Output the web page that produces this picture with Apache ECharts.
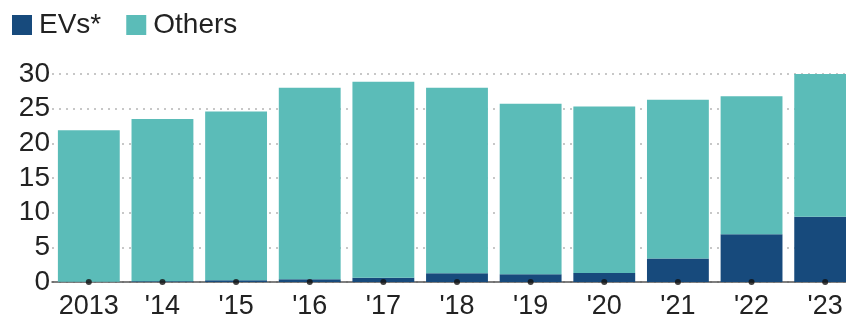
<!DOCTYPE html>
<html>
<head>
<meta charset="utf-8">
<script src="https://cdn.jsdelivr.net/npm/echarts@6/dist/echarts.min.js"></script>
<style>
  html, body { margin: 0; padding: 0; background: #fff; }
  #chart { width: 846px; height: 320px; }
</style>
</head>
<body>
<div id="chart"></div>
<script>
// Annual sales (millions of units): EVs vs. all other vehicles
const years = ['2013', "'14", "'15", "'16", "'17", "'18", "'19", "'20", "'21", "'22", "'23"];
const evSales = [0.05, 0.1, 0.25, 0.4, 0.6, 1.25, 1.1, 1.3, 3.4, 6.9, 9.4];
const totalSales = [21.9, 23.5, 24.6, 28.0, 28.9, 28.0, 25.7, 25.3, 26.3, 26.8, 30.0];
const otherSales = totalSales.map((t, i) => +(t - evSales[i]).toFixed(2));
const yTicks = [0, 5, 10, 15, 20, 25, 30];
const baseMarks = years.map(() => 0);

const chart = echarts.init(document.getElementById('chart'), null, { renderer: 'canvas' });
chart.setOption({
  animation: false,
  textStyle: { fontFamily: 'Liberation Sans, Arial, sans-serif' },
  legend: {
    left: 7, top: 6,
    itemWidth: 20, itemHeight: 20, itemGap: 25,
    icon: 'rect',
    data: ['EVs*', 'Others'],
    textStyle: { fontSize: 28, color: '#222', padding: [0, 0, 0, 2] }
  },
  // the plot runs past the right edge, so the last bar is cut off
  grid: {
    left: 52, width: 810, top: 74, height: 208,
    containLabel: false, outerBoundsMode: 'none'
  },
  xAxis: {
    type: 'category',
    data: years,
    boundaryGap: true,
    axisLine: { show: true, lineStyle: { color: '#555', width: 1.5 } },
    axisTick: { show: false },
    axisLabel: { fontSize: 27, color: '#222', margin: 11, interval: 0, hideOverlap: false }
  },
  yAxis: {
    type: 'value',
    min: yTicks[0], max: yTicks[yTicks.length - 1], interval: 5,
    axisLine: { show: false },
    axisTick: { show: false },
    axisLabel: { fontSize: 28, color: '#222', margin: 2 },
    splitLine: { show: true, lineStyle: { color: '#b5b5b5', type: [2, 5], width: 1.5 } }
  },
  series: [
    {
      name: 'EVs*', type: 'bar', stack: 'sales',
      data: evSales, barCategoryGap: '16%',
      itemStyle: { color: '#174a7c' }
    },
    {
      name: 'Others', type: 'bar', stack: 'sales',
      data: otherSales, barCategoryGap: '16%',
      itemStyle: { color: '#5bbcb8' }
    },
    {
      name: 'ticks', type: 'scatter',
      data: baseMarks, symbol: 'circle', symbolSize: 6,
      itemStyle: { color: '#111' }, z: 5, silent: true
    }
  ]
});
</script>
</body>
</html>
